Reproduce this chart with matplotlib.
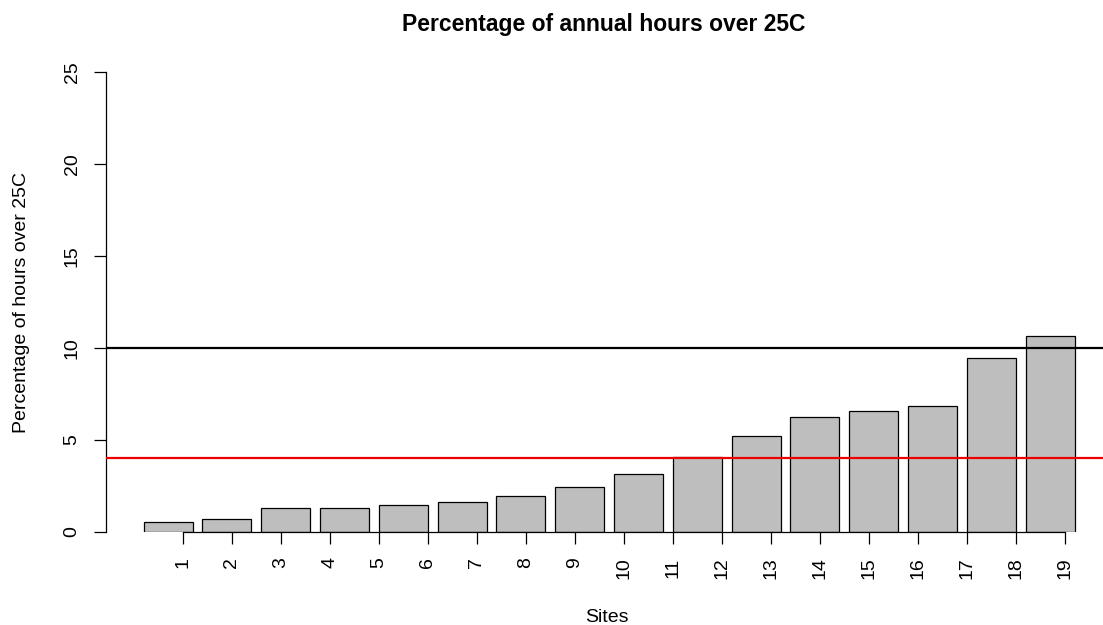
import numpy as np
import matplotlib
matplotlib.use('Agg')
import matplotlib.pyplot as plt

# Share of hours above 25C for each site, sorted low to high
pctOver25 = [0.54, 0.69, 1.28, 1.29, 1.49, 1.63, 1.96, 2.45,
             3.17, 4.05, 5.22, 6.23, 6.59, 6.85, 9.43, 10.67]
siteLabels = [str(i) for i in range(1, 20)]
siteTicks = list(range(1, 20))
upperLimit = 10
lowerLimit = 4

def main():
    plt.rcParams['font.family'] = ['Liberation Sans', 'DejaVu Sans']

    fig = plt.figure(figsize=(11.03, 6.25), dpi=100)
    W, H = 1103, 625
    # plot region in pixels: left 106, right edge of image, y 72..532
    ax = fig.add_axes([106 / W, (H - 532) / H, (W - 106) / W, 460 / H])

    # barplot layout: width 1, gap 0.2
    x = 0.7 + 1.2 * np.arange(len(pctOver25))
    ax.bar(x, pctOver25, width=1.0, color='#bebebe', edgecolor='black',
           linewidth=0.9, zorder=2)

    ax.axhline(upperLimit, color='black', linewidth=1.6, zorder=3)
    ax.axhline(lowerLimit, color='#ee0000', linewidth=1.6, zorder=3)

    ax.set_xlim(-0.568, 0.7 + (W - 168) / 49.0)
    ax.set_ylim(0, 25)

    ax.spines['top'].set_visible(False)
    ax.spines['right'].set_visible(False)
    ax.spines['left'].set_bounds(0, 25)
    ax.spines['bottom'].set_bounds(1, 19)
    ax.spines['left'].set_linewidth(0.9)
    ax.spines['bottom'].set_linewidth(0.9)

    ax.set_yticks([0, 5, 10, 15, 20, 25])
    ax.set_yticklabels(['0', '5', '10', '15', '20', '25'], rotation=90, va='center')
    ax.set_xticks(siteTicks)
    ax.set_xticklabels(siteLabels, rotation=90)
    ax.tick_params(axis='both', length=8.3, width=0.9, labelsize=14)
    ax.tick_params(axis='x', pad=10)
    ax.tick_params(axis='y', pad=10)

    fig.text(604 / W, 1 - 25 / H, 'Percentage of annual hours over 25C',
             ha='center', va='center', fontsize=16.5, fontweight='bold')
    fig.text(607 / W, 1 - 618 / H, 'Sites', ha='center', va='center', fontsize=14)
    fig.text(22 / W, 1 - 302 / H, 'Percentage of hours over 25C', ha='center',
             va='center', rotation=90, fontsize=14)

    fig.savefig('out.png', dpi=100)

if __name__ == '__main__':
    main()
